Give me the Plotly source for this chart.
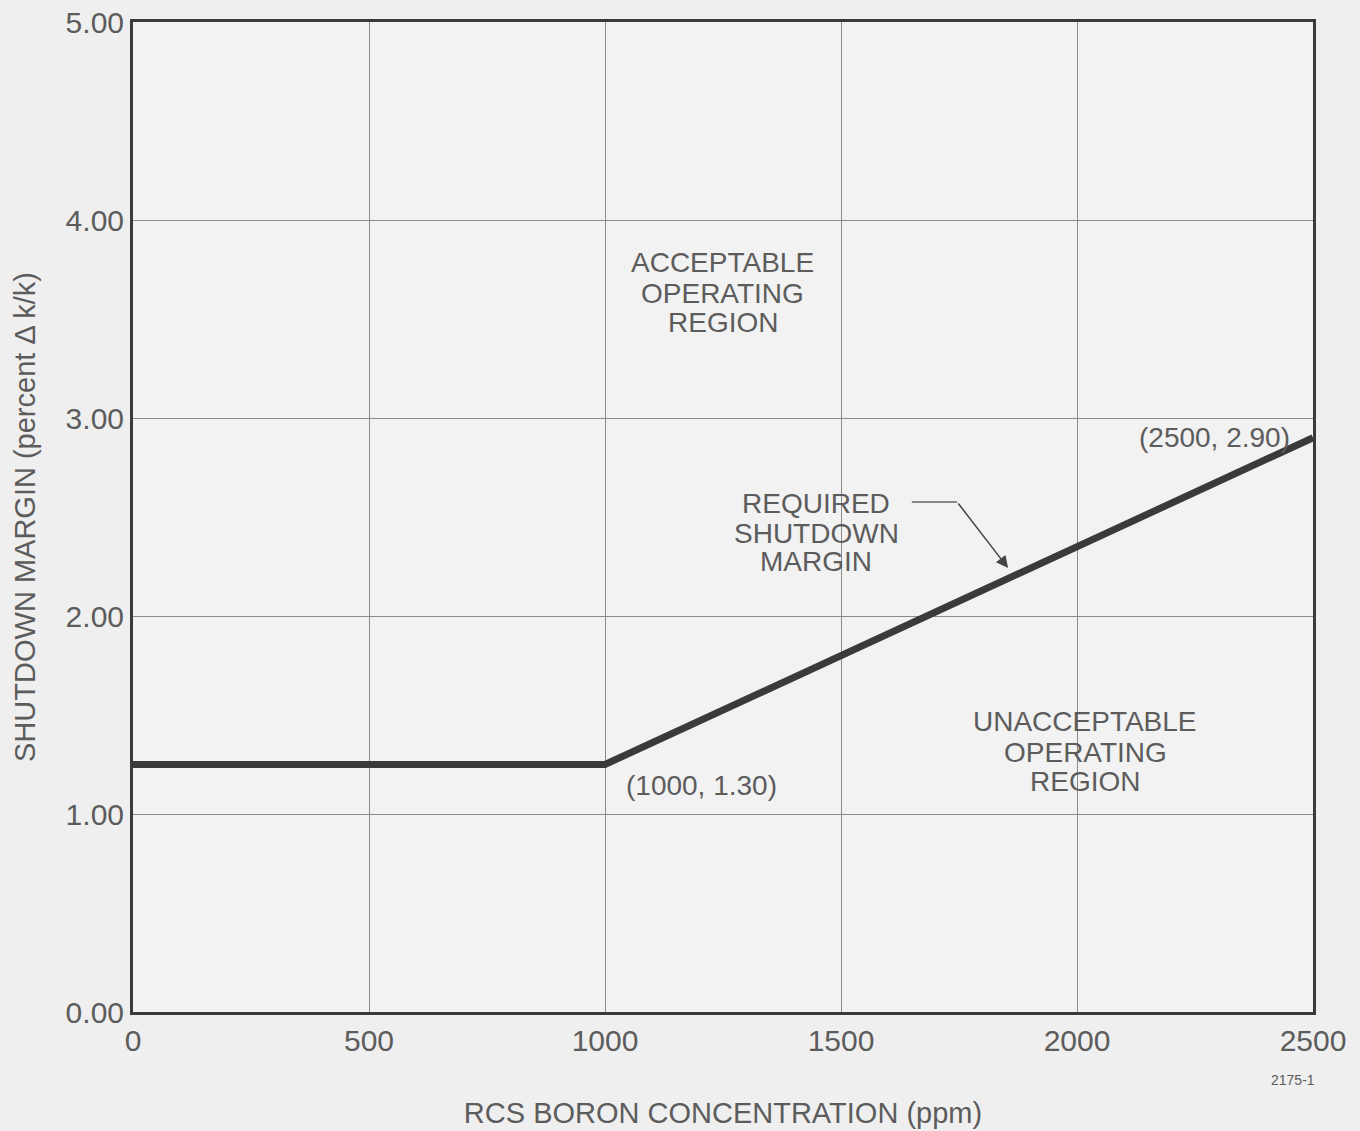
import plotly.graph_objects as go

boron_ppm = [0, 1000, 2500]
shutdown_margin = [1.25, 1.25, 2.90]
x_ticks = [0, 500, 1000, 1500, 2000, 2500]
y_ticks = [0, 1, 2, 3, 4, 5]
y_tick_labels = ["0.00", "1.00", "2.00", "3.00", "4.00", "5.00"]

FONT = "Liberation Sans, Arial, sans-serif"
TXT = "#5c5c5c"

fig = go.Figure()
fig.add_trace(go.Scatter(x=boron_ppm, y=shutdown_margin, mode="lines",
                         line=dict(color="#3a3a3a", width=7), showlegend=False,
                         hoverinfo="skip"))

ann_font = dict(family=FONT, size=28, color=TXT)


def block(x, ys, lines):
    for y, t in zip(ys, lines):
        fig.add_annotation(x=x, y=y, text=t, showarrow=False, font=ann_font,
                           xanchor="center", yanchor="middle")


block(1249, [3.783, 3.631, 3.480], ["ACCEPTABLE", "OPERATING", "REGION"])
block(1448, [2.566, 2.419, 2.273], ["REQUIRED", "SHUTDOWN", "MARGIN"])
block(2017, [1.465, 1.313, 1.162], ["UNACCEPTABLE", "OPERATING", "REGION"])
block(2292, [2.902], ["(2500, 2.90)"])
block(1204, [1.146], ["(1000, 1.30)"])

# pointer for required margin
fig.add_shape(type="line", x0=1650, y0=2.576, x1=1746, y1=2.576,
              line=dict(color="#666", width=1.5))
fig.add_annotation(x=1854, y=2.242, ax=1746, ay=2.576, axref="x", ayref="y",
                   xref="x", yref="y", text="", showarrow=True,
                   arrowhead=2, arrowsize=1.6, arrowwidth=1.5, arrowcolor="#444")
fig.add_annotation(x=1.0034, y=-0.0788, xref="paper", yref="paper", text="2175-1",
                   showarrow=False, font=dict(family=FONT, size=14, color=TXT))

fig.update_xaxes(range=[0, 2500], tickvals=x_ticks, showgrid=True, automargin=False,
                 gridcolor="#8a8a8a", gridwidth=1, showline=True, linecolor="#3a3a3a",
                 linewidth=3, mirror=True, ticks="", zeroline=False,
                 tickfont=dict(family=FONT, size=30, color=TXT),
                 title=dict(text="RCS BORON CONCENTRATION (ppm)", standoff=47,
                            font=dict(family=FONT, size=29, color=TXT)))
fig.update_yaxes(range=[0, 5], tickvals=y_ticks, ticktext=y_tick_labels, showgrid=True,
                 automargin=False,
                 gridcolor="#8a8a8a", gridwidth=1, showline=True, linecolor="#3a3a3a",
                 linewidth=3, mirror=True, ticks="", zeroline=False,
                 tickfont=dict(family=FONT, size=30, color=TXT),
                 title=dict(text="SHUTDOWN MARGIN (percent Δ k/k)", standoff=22,
                            font=dict(family=FONT, size=29, color=TXT)))

fig.update_layout(width=1360, height=1131, paper_bgcolor="#efefef",
                  plot_bgcolor="#f2f2f2",
                  margin=dict(l=133, r=47, t=22, b=119))
fig.write_html("out.html", config={"displayModeBar": False},
               post_script="document.body.style.margin='0';"
                           "document.body.style.overflow='hidden';"
                           "document.body.style.background='#efefef';")
